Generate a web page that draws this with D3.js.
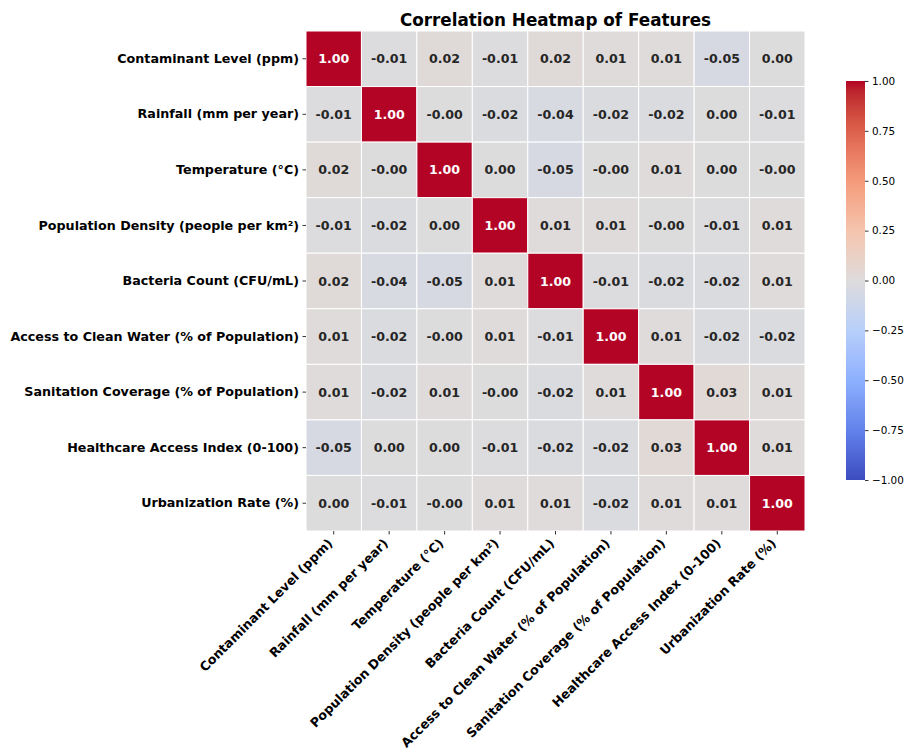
<!DOCTYPE html>
<html>
<head>
<meta charset="utf-8">
<script src="https://cdn.jsdelivr.net/npm/d3@7"></script>
<style>
  html, body { margin: 0; padding: 0; background: #fff; }
  svg { display: block; font-family: "DejaVu Sans", sans-serif; }
</style>
</head>
<body>
<svg id="chart" width="907" height="749"></svg>
<script>
// Feature names (rows and columns share the same order)
const features = [
  "Contaminant Level (ppm)",
  "Rainfall (mm per year)",
  "Temperature (\u00B0C)",
  "Population Density (people per km\u00B2)",
  "Bacteria Count (CFU/mL)",
  "Access to Clean Water (% of Population)",
  "Sanitation Coverage (% of Population)",
  "Healthcare Access Index (0-100)",
  "Urbanization Rate (%)"
];

// Pearson correlation matrix, one array per row
const rowContaminant = [ 1.00, -0.01,  0.02, -0.01,  0.02,  0.01,  0.01, -0.05,  0.00];
const rowRainfall    = [-0.01,  1.00, -0.003, -0.02, -0.04, -0.02, -0.02,  0.00, -0.01];
const rowTemperature = [ 0.02, -0.003, 1.00,  0.00, -0.05, -0.003, 0.01,  0.00, -0.003];
const rowPopDensity  = [-0.01, -0.02,  0.00,  1.00,  0.01,  0.01, -0.003, -0.01, 0.01];
const rowBacteria    = [ 0.02, -0.04, -0.05,  0.01,  1.00, -0.01, -0.02, -0.02,  0.01];
const rowCleanWater  = [ 0.01, -0.02, -0.003, 0.01, -0.01,  1.00,  0.01, -0.02, -0.02];
const rowSanitation  = [ 0.01, -0.02,  0.01, -0.003, -0.02, 0.01,  1.00,  0.03,  0.01];
const rowHealthcare  = [-0.05,  0.00,  0.00, -0.01, -0.02, -0.02,  0.03,  1.00,  0.01];
const rowUrban       = [ 0.00, -0.01, -0.003, 0.01,  0.01, -0.02,  0.01,  0.01,  1.00];
const matrix = [rowContaminant, rowRainfall, rowTemperature, rowPopDensity, rowBacteria,
                rowCleanWater, rowSanitation, rowHealthcare, rowUrban];

// Colorbar ticks
const colorbarTicks = [1.00, 0.75, 0.50, 0.25, 0.00, -0.25, -0.50, -0.75, -1.00];

// Diverging blue-grey-red palette (coolwarm), evenly spaced stops
const coolwarmStops = ["#3b4cc0", "#6282ea", "#8db0fe", "#b7cffa", "#dddcdc",
                       "#f5c4ad", "#f49a7b", "#dd614c", "#b40426"];
const coolwarm = d3.piecewise(d3.interpolateLab, coolwarmStops);
const color = d3.scaleSequential(coolwarm).domain([-1, 1]);

const svg = d3.select("#chart");

const plot = { left: 306, top: 31, width: 499, height: 500 };

const x = d3.scaleBand().domain(features).range([plot.left, plot.left + plot.width]).padding(0);
const y = d3.scaleBand().domain(features).range([plot.top, plot.top + plot.height]).padding(0);

// Title
svg.append("text")
  .attr("x", plot.left + plot.width / 2)
  .attr("y", 26)
  .attr("text-anchor", "middle")
  .attr("font-size", 16.8)
  .attr("font-weight", "bold")
  .attr("fill", "#000")
  .text("Correlation Heatmap of Features");

// Cells
const cells = [];
matrix.forEach((row, i) => row.forEach((v, j) => cells.push({ r: features[i], c: features[j], v })));

svg.append("g").selectAll("rect")
  .data(cells)
  .join("rect")
  .attr("x", d => x(d.c))
  .attr("y", d => y(d.r))
  .attr("width", x.bandwidth())
  .attr("height", y.bandwidth())
  .attr("fill", d => color(d.v))
  .attr("stroke", "#ffffff")
  .attr("stroke-width", 1);

// Annotations
svg.append("g").selectAll("text")
  .data(cells)
  .join("text")
  .attr("x", d => x(d.c) + x.bandwidth() / 2)
  .attr("y", d => y(d.r) + y.bandwidth() / 2)
  .attr("dy", "0.36em")
  .attr("text-anchor", "middle")
  .attr("font-size", 12.6)
  .attr("font-weight", "bold")
  .attr("fill", d => Math.abs(d.v) > 0.5 ? "#ffffff" : "#262626")
  .text(d => d.v.toFixed(2));

// Y axis
const yAxis = svg.append("g")
  .attr("transform", `translate(${plot.left},0)`)
  .call(d3.axisLeft(y).tickSize(3.5).tickPadding(3.5));
yAxis.select(".domain").remove();
yAxis.selectAll("line").attr("stroke", "#000").attr("stroke-width", 0.8);
yAxis.selectAll("text")
  .attr("font-size", 12.7)
  .attr("font-weight", "bold")
  .attr("font-family", "DejaVu Sans, sans-serif")
  .attr("fill", "#000");

// X axis with rotated labels
const xAxis = svg.append("g")
  .attr("transform", `translate(0,${plot.top + plot.height})`)
  .call(d3.axisBottom(x).tickSize(3.5).tickPadding(3.5));
xAxis.select(".domain").remove();
xAxis.selectAll("line").attr("stroke", "#000").attr("stroke-width", 0.8);
xAxis.selectAll("text")
  .attr("font-size", 12.7)
  .attr("font-weight", "bold")
  .attr("font-family", "DejaVu Sans, sans-serif")
  .attr("fill", "#000")
  .attr("text-anchor", "end")
  .attr("dy", "0.35em")
  .attr("y", 0)
  .attr("transform", "translate(-3.5,10) rotate(-45)");

// Colorbar
const cb = { left: 846, top: 81, width: 19, height: 399 };
const defs = svg.append("defs");
const grad = defs.append("linearGradient")
  .attr("id", "cbGrad")
  .attr("x1", 0).attr("y1", 1).attr("x2", 0).attr("y2", 0);
d3.range(0, 1.0001, 0.025).forEach(t => {
  grad.append("stop").attr("offset", t).attr("stop-color", coolwarm(t));
});
svg.append("rect")
  .attr("x", cb.left).attr("y", cb.top)
  .attr("width", cb.width).attr("height", cb.height)
  .attr("fill", "url(#cbGrad)");

const cbScale = d3.scaleLinear().domain([-1, 1]).range([cb.top + cb.height, cb.top]);
const cbAxis = svg.append("g")
  .attr("transform", `translate(${cb.left + cb.width},0)`)
  .call(d3.axisRight(cbScale).tickValues(colorbarTicks).tickSize(3.5).tickPadding(3.5)
    .tickFormat(d => d3.format(".2f")(d)));
cbAxis.select(".domain").remove();
cbAxis.selectAll("line").attr("stroke", "#000").attr("stroke-width", 0.8);
cbAxis.selectAll("text")
  .attr("font-size", 10.4)
  .attr("font-family", "DejaVu Sans, sans-serif")
  .attr("fill", "#000");
</script>
</body>
</html>
